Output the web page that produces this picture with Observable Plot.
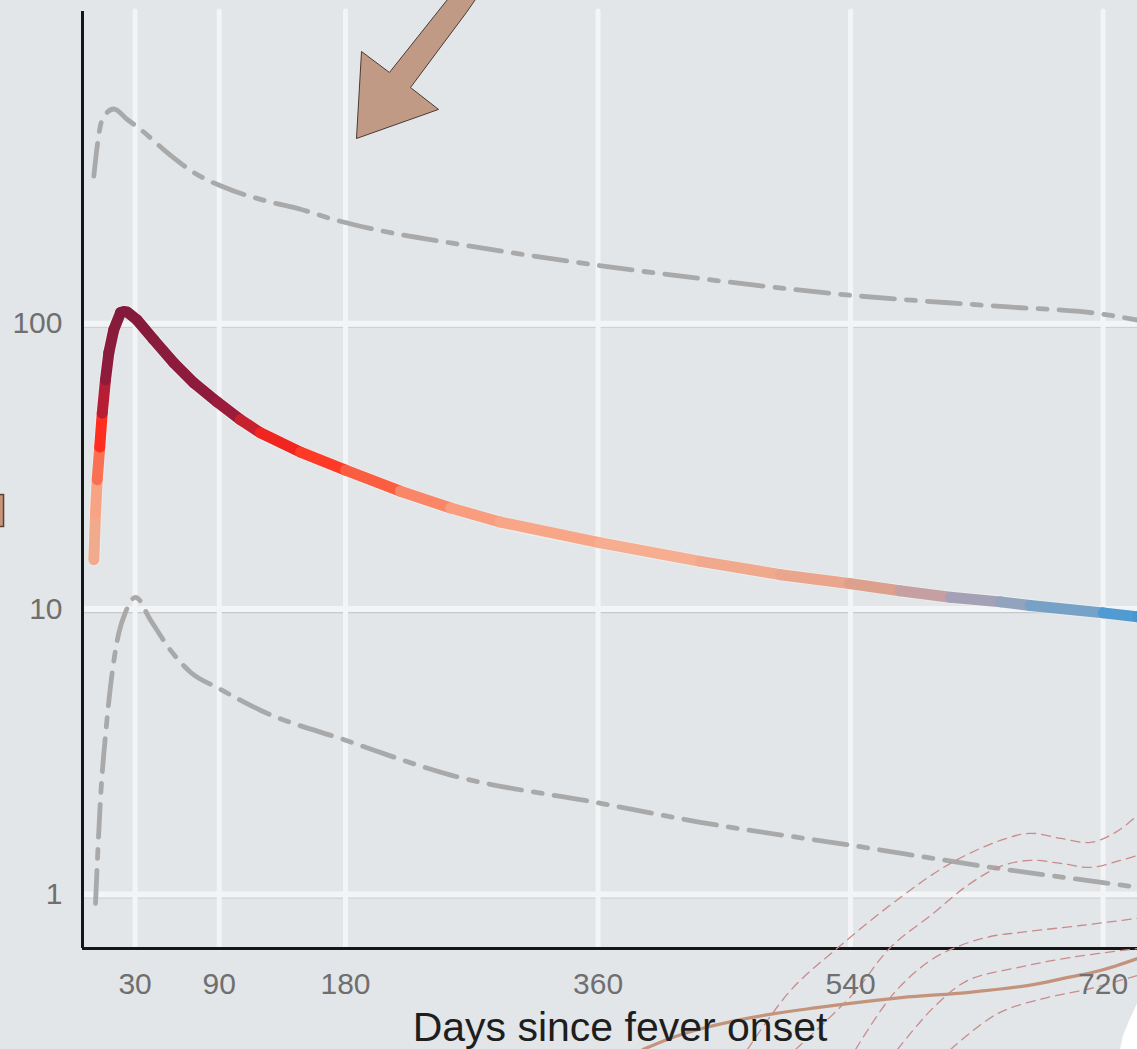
<!DOCTYPE html>
<html>
<head>
<meta charset="utf-8">
<script src="https://cdn.jsdelivr.net/npm/d3@7"></script>
<script src="https://cdn.jsdelivr.net/npm/@observablehq/plot@0.6"></script>
<style>
  html, body { margin: 0; padding: 0; background: #e2e6e9; }
  #chart { width: 1137px; height: 1049px; overflow: hidden; }
</style>
</head>
<body>
<div id="chart"></div>
<script>
// Axis ticks
const xTicks = [30, 90, 180, 360, 540, 720];
const yTicks = [1, 10, 100];
const xLabel = "Days since fever onset";

// Fitted antibody titre (central estimate)
const fitDays   = [0.6, 1.8, 3.0, 4.8, 6.6, 8.9, 11.3, 14.8, 19.6, 22, 24.4, 31.5, 43.3, 57.6, 71.8, 88.5, 105, 119.3, 147.9, 180, 219, 255, 290, 361, 433, 490, 539, 575, 611, 647, 668, 720, 744.5];
const fitValues = [14.9, 21.7, 28.4, 37.0, 48.7, 63.6, 79.2, 95.3, 109.4, 110.5, 110, 103, 87.9, 73, 62.1, 53.2, 46.1, 41.5, 35.5, 30.7, 25.9, 22.6, 20.2, 17.1, 14.7, 13.2, 12.3, 11.6, 11.0, 10.6, 10.3, 9.7, 9.4];

// Upper and lower bounds
const upperDays   = [0.6, 3.0, 6.6, 14.8, 24.4, 33.9, 52.9, 71.8, 98, 124, 147.9, 171.5, 207, 255, 361, 433, 539, 647, 720, 744.5];
const upperValues = [329, 419, 520, 566, 520, 480, 398, 339, 295, 269, 252, 232, 211, 192, 160, 144, 126, 115, 108, 103];
const lowerDays   = [1.8, 5.3, 9.6, 13.9, 18.4, 23.2, 30.3, 41, 55.2, 69.5, 89.4, 119.3, 180, 255, 361, 433, 539, 647, 720, 744.5];
const lowerValues = [0.93, 2.14, 3.92, 6.1, 8.24, 9.76, 11.0, 9.15, 7.18, 6.01, 5.28, 4.42, 3.47, 2.62, 2.09, 1.79, 1.49, 1.23, 1.10, 1.06];

// Colour ramp of the fitted curve, keyed on titre
const rampValues = [9.4, 10.1, 10.5, 11.0, 11.6, 12.3, 13.5, 17, 22, 26, 31, 37, 41, 46, 53, 62, 80, 112];
const rampColors = ["#4598d2", "#5f9fcf", "#8ea4c0", "#a4a0b6", "#c6a0a0", "#dca08d", "#eea78b", "#f7ae90", "#f8a283", "#f88566", "#fb5a3e", "#ff2e1e", "#f5261e", "#c8202f", "#9b1c3a", "#8f1b3c", "#8a1b3c", "#841a3b"];

// Callout arrow
const arrowDays   = [252.7, 211.3, 191.4, 187.8, 246.3, 226.3, 266.0, 272.6, 252.7];
const arrowValues = [1370, 760, 900, 446, 564, 673, 1230, 1370, 1370];

// Neighbouring panel pieces that overlap this one
const guideIds = ["a","a","a","a","a","a","a","a","a","a","a",
                  "b","b","b","b","b","b","b","b","b","b","b",
                  "c","c","c","c","c","c","c","c",
                  "d","d","d","d","d","d",
                  "e","e","e","e","e"];
const guideDays = [466.5, 497.1, 532.8, 575.5, 611.2, 646.8, 668.2, 689.6, 711.0, 728.8, 744.5,
                   500.7, 542.0, 568.4, 598.9, 623.3, 646.8, 668.2, 689.6, 711.0, 732.4, 744.5,
                   543.5, 570.6, 596.9, 618.3, 639.7, 661.1, 703.9, 744.5,
                   573.4, 599.0, 623.3, 659.0, 696.7, 744.5,
                   611.2, 644.7, 680.3, 711.0, 744.5];
const guideValues = [0.286, 0.460, 0.662, 0.976, 1.285, 1.547, 1.637, 1.573, 1.522, 1.650, 1.893,
                     0.286, 0.449, 0.652, 0.858, 1.075, 1.254, 1.316, 1.285, 1.244, 1.316, 1.370,
                     0.286, 0.449, 0.587, 0.662, 0.712, 0.736, 0.778, 0.824,
                     0.286, 0.401, 0.499, 0.554, 0.601, 0.646,
                     0.286, 0.382, 0.435, 0.468, 0.520];
const trendDays   = [392, 421, 469, 516, 576, 623, 666, 695, 718, 744.5];
const trendValues = [0.286, 0.325, 0.370, 0.401, 0.435, 0.453, 0.479, 0.512, 0.541, 0.596];
const blobDays    = [744.5, 739.5, 734.5, 732.4, 744.5, 744.5];
const blobValues  = [0.4145, 0.367, 0.320, 0.286, 0.286, 0.4145];
const tagBox = [{x1: -67.4, x2: -63.4, y1: 19.4, y2: 25.1}];

// Scale extents
const xDomain = [-7.48, 744.5];
const yDomain = [0.6463, 1243];

const rows = (xs, ys, extra) => xs.map((d, i) => ({day: d, value: ys[i], ...(extra ? {id: extra[i]} : {})}));
const fit = rows(fitDays, fitValues);
const upper = rows(upperDays, upperValues);
const lower = rows(lowerDays, lowerValues);
const arrow = rows(arrowDays, arrowValues);
const guides = rows(guideDays, guideValues, guideIds);
const trend = rows(trendDays, trendValues);
const blob = rows(blobDays, blobValues);

const dashDot = "33,12,9,12";

const chart = Plot.plot({
  width: 1137,
  height: 1049,
  marginLeft: 82,
  marginRight: 0,
  marginTop: 11,
  marginBottom: 101,
  style: {background: "#e2e6e9", fontFamily: "'Liberation Sans', Arial, sans-serif", overflow: "visible"},
  x: {domain: xDomain, label: null},
  y: {type: "log", domain: yDomain, label: null},
  color: {type: "linear", domain: rampValues, range: rampColors, interpolate: "rgb"},
  marks: [
    // horizontal grid: light band with a soft grey edge
    Plot.ruleY(yTicks, {stroke: "#c6c9cc", strokeWidth: 1.2, dy: 3.5}),
    Plot.ruleY(yTicks, {stroke: "#f3f4f5", strokeWidth: 6}),
    // vertical grid
    Plot.ruleX(xTicks, {stroke: "#f3f4f5", strokeWidth: 5, strokeLinecap: "round"}),
    // axis lines
    Plot.ruleX([xDomain[0]], {stroke: "#161616", strokeWidth: 3}),
    Plot.ruleY([yDomain[0]], {stroke: "#161616", strokeWidth: 3}),
    // bounds
    Plot.line(upper, {x: "day", y: "value", stroke: "#a9a9a9", strokeWidth: 4.8, strokeDasharray: dashDot, curve: "monotone-x"}),
    Plot.line(lower, {x: "day", y: "value", stroke: "#a9a9a9", strokeWidth: 4.8, strokeDasharray: dashDot, curve: "monotone-x"}),
    // fitted curve: pale halo then colour-ramped stroke
    Plot.line(fit, {x: "day", y: "value", stroke: "#f4f4f4", strokeOpacity: 0.5, strokeWidth: 13, curve: "monotone-x"}),
    Plot.line(fit, {x: "day", y: "value", z: null, stroke: "value", strokeWidth: 11, strokeLinecap: "round", strokeLinejoin: "round"}),
    // overlapping pieces from the neighbouring panel
    Plot.line(guides, {x: "day", y: "value", z: "id", stroke: "#c98b8b", strokeWidth: 1.3, strokeDasharray: "9,6", curve: "catmull-rom"}),
    Plot.line(trend, {x: "day", y: "value", stroke: "#c4937c", strokeWidth: 3.2, curve: "catmull-rom"}),
    Plot.line(blob, {x: "day", y: "value", fill: "white", stroke: "white", strokeWidth: 1, curve: "linear"}),
    Plot.rect(tagBox, {x1: "x1", x2: "x2", y1: "y1", y2: "y2", fill: "#c9957a", stroke: "#5a4035", strokeWidth: 1.5}),
    // callout arrow
    Plot.line(arrow, {x: "day", y: "value", fill: "#c19a85", stroke: "#4a3a33", strokeWidth: 1, curve: "linear"}),
    // axes
    Plot.axisX(xTicks, {tickSize: 0, tickPadding: 24, fontSize: 30, color: "#6f6f6f", label: null}),
    Plot.axisY(yTicks, {tickSize: 0, tickPadding: 20, fontSize: 30, color: "#6f6f6f", label: null, tickFormat: d => String(d)}),
    Plot.text([xLabel], {text: d => d, frameAnchor: "bottom", lineAnchor: "middle", dy: 79, dx: 10, fontSize: 41, fill: "#1e1e1e"})
  ]
});

document.getElementById("chart").appendChild(chart);
</script>
</body>
</html>
